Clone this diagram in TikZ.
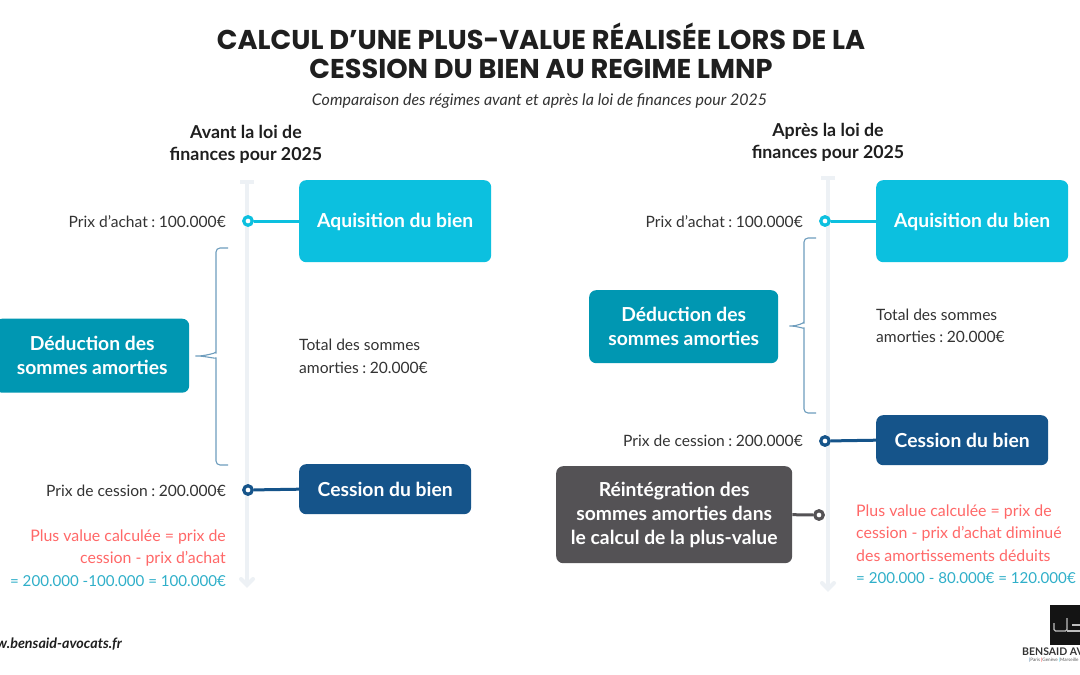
\documentclass[tikz,border=0pt]{standalone}
\usepackage{fontspec}
\setmainfont{Poppins}
\newfontfamily\lato{Lato}
\usetikzlibrary{calc}
\definecolor{cyanbox}{HTML}{0CC0DF}
\definecolor{tealbox}{HTML}{0097B2}
\definecolor{navybox}{HTML}{15548A}
\definecolor{greybox}{HTML}{545255}
\definecolor{axisc}{HTML}{EDF1F5}
\definecolor{redtxt}{HTML}{FF6868}
\definecolor{tealtxt}{HTML}{2FAFC9}
\definecolor{bodytxt}{HTML}{333333}
\definecolor{bracec}{HTML}{6E9DBD}
\newcommand{\cln}{\hspace{3.5pt}:\hspace{3.5pt}}
\tikzset{
 box/.style={rounded corners=7pt,inner sep=0pt,text=white,align=center,font=\lato\bfseries\fontsize{19.3}{24}\selectfont,minimum width=#1},
 lab/.style={inner sep=0pt,text=bodytxt,font=\lato\fontsize{15.6}{22.6}\selectfont},
 labwide/.style={inner sep=0pt,text=redtxt,font=\lato\fontsize{15.9}{22.6}\selectfont},
 labnum/.style={inner sep=0pt,text=tealtxt,font=\lato\fontsize{15.1}{22.6}\selectfont},
 dot/.style={circle,draw=#1,fill=white,line width=3.2pt,minimum size=8.5pt,inner sep=0pt},
 link/.style={line width=3pt,draw=#1},
 axisline/.style={line width=4pt,draw=axisc},
 chevron/.style={line width=4pt,draw=axisc,line cap=round},
 bracel/.style={line width=1.1pt,draw=bracec,rounded corners=4pt},
 head/.style={inner sep=0pt,align=center,font=\lato\bfseries\fontsize{17.8}{22}\selectfont,text=black!88},
}
\begin{document}
\begin{tikzpicture}[x=1pt,y=-1pt]
\useasboundingbox (0,0) rectangle (1080,675);
\clip (0,0) rectangle (1080,675);
\fill[white] (0,0) rectangle (1080,675);
% title
\node[inner sep=0pt,align=center,font=\bfseries\fontsize{27.2}{29}\selectfont,text=black!88] (title) at (541,50.5) {CALCUL D’UNE PLUS-VALUE RÉALISÉE LORS DE LA\\CESSION DU BIEN AU REGIME LMNP};
\node[inner sep=0pt,font=\lato\itshape\fontsize{16}{19}\selectfont,text=bodytxt] (sub) at (539.5,101) {Comparaison des régimes avant et après la loi de finances pour 2025};
\node[head] (headL) at (246,144) {Avant la loi de\\finances pour 2025};
\node[head] (headR) at (828,142) {Après la loi de\\finances pour 2025};
% axes
\coordinate (aLt) at (247,182); \coordinate (aLb) at (247,585);
\coordinate (aRt) at (828,178); \coordinate (aRb) at (828,589);
\foreach \t/\b in {aLt/aLb,aRt/aRb}{
 \draw[axisline] (\t) -- (\b);
 \draw[axisline] ($(\t)+(-7,0)$) -- ($(\t)+(7,0)$);
 \draw[chevron] ($(\b)+(-6,-6)$) -- (\b) -- ($(\b)+(6,-6)$);
}
% left boxes
\node[box=192pt,fill=cyanbox,minimum height=82pt,text depth=1pt,anchor=north west] (acqL) at (299,180) {Aquisition du bien};
\node[box=194pt,fill=tealbox,minimum height=74pt,anchor=north west] (dedL) at (-5,318.5) {Déduction des\\sommes amorties};
\node[box=172pt,fill=navybox,minimum height=50pt,anchor=north west] (cesL) at (299,464) {Cession du bien};
\node[dot=cyanbox] (d1L) at (248,221) {};
\node[dot=navybox] (d2L) at (248,490) {};
\draw[link=cyanbox] (d1L) -- (acqL.west |- d1L);
\draw[link=navybox] (d2L) -- (cesL.west);
\node[lab,anchor=east] (pa1) at (226,221.5) {Prix d’achat\cln 100.000€};
\node[lab,anchor=east] (pc1) at (226,491) {Prix de cession\cln 200.000€};
\node[lab,anchor=west,align=left] (tot1) at (299,356.5) {Total des sommes\\amorties\cln 20.000€};
\node[labwide,anchor=east,align=right] (pv1) at (226,548) {Plus value calculée = prix de\\cession - prix d’achat};
\node[labnum,anchor=east] (eq1) at (226,581) {= 200.000 -100.000 = 100.000€};
% left brace
\coordinate (bL1) at (228,248); \coordinate (bLm) at (193,356); \coordinate (bL2) at (228,465);
\draw[bracel] (bL1) -- (216,248) -- (216,356) .. controls (216,353) and (205,356) .. (bLm) .. controls (205,356) and (216,359) .. (216,362) -- (216,465) -- (bL2);
% right boxes
\node[box=192pt,fill=cyanbox,minimum height=82pt,text depth=1pt,anchor=north west] (acqR) at (876,180) {Aquisition du bien};
\node[box=189pt,fill=tealbox,minimum height=73pt,anchor=north west] (dedR) at (589,290) {Déduction des\\sommes amorties};
\node[box=172pt,fill=navybox,minimum height=50pt,anchor=north west] (cesR) at (876,415) {Cession du bien};
\node[box=236pt,fill=greybox,minimum height=97pt,anchor=north west] (reiR) at (556,466) {Réintégration des\\sommes amorties dans\\le calcul de la plus-value};
\node[dot=cyanbox] (d1R) at (825,221) {};
\node[dot=navybox] (d2R) at (825,441) {};
\node[dot=greybox] (d3R) at (819,515) {};
\draw[link=cyanbox] (d1R) -- (acqR.west |- d1R);
\draw[link=navybox] (d2R) -- (cesR.west);
\draw[link=greybox] (reiR.east) -- (d3R);
\node[lab,anchor=east] (pa2) at (803,221.5) {Prix d’achat\cln 100.000€};
\node[lab,anchor=east] (pc2) at (803,441) {Prix de cession\cln 200.000€};
\node[lab,anchor=west,align=left] (tot2) at (876,326) {Total des sommes\\amorties\cln 20.000€};
\node[labwide,anchor=west,align=left] (pv2) at (856,533) {Plus value calculée = prix de\\cession - prix d’achat diminué\\des amortissements déduits};
\node[labnum,anchor=west] (eq2) at (856,578) {= 200.000 - 80.000€ = 120.000€};
% right brace
\coordinate (bR1) at (816,238); \coordinate (bRm) at (787,326); \coordinate (bR2) at (816,413);
\draw[bracel] (bR1) -- (804,238) -- (804,326) .. controls (804,323) and (797,326) .. (bRm) .. controls (797,326) and (804,329) .. (804,332) -- (804,413) -- (bR2);
% footer
\node[inner sep=0pt,anchor=east,font=\lato\bfseries\itshape\fontsize{14.3}{17}\selectfont,text=black!88] (web) at (122,644) {www.bensaid-avocats.fr};
% logo
\fill[black!92] (1050,605) rectangle (1085,645);
\draw[white!75!black,line width=1.1pt,rounded corners=1.5pt] (1054,623) -- (1054,631) -- (1067,631) -- (1067,618);
\draw[white!75!black,line width=1.1pt] (1067,631) -- (1082,631);
\draw[white!75!black,line width=1.1pt] (1072,625) -- (1082,625);
\node[inner sep=0pt,anchor=west,font=\lato\bfseries\fontsize{10.5}{12}\selectfont,text=black!80] (logoT) at (1022,651.5) {BENSAID AVOCATS};
\node[inner sep=0pt,anchor=west,font=\lato\fontsize{4.6}{5}\selectfont,text=black!65] (logoS) at (1029,660) {{\color{navybox}|}Paris {\color{red}|}Genève {\color{cyanbox}|}Marseille};
\end{tikzpicture}
\end{document}
